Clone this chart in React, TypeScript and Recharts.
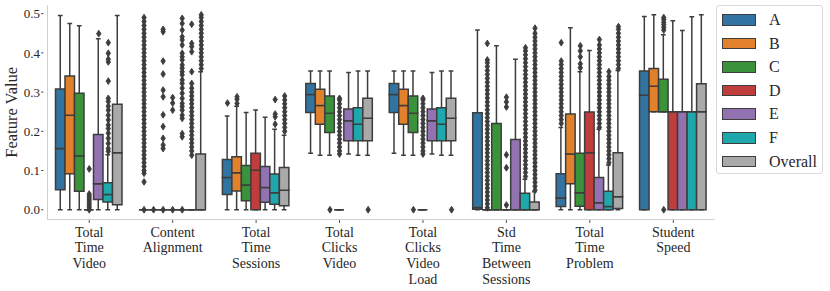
import React from 'react';
import { ComposedChart, Bar, Scatter, XAxis, YAxis } from 'recharts';

const categories = [
  'Total Time Video',
  'Content Alignment',
  'Total Time Sessions',
  'Total Clicks Video',
  'Total Clicks Video Load',
  'Std Time Between Sessions',
  'Total Time Problem',
  'Student Speed',
];

const groups = ['A', 'B', 'C', 'D', 'E', 'F', 'Overall'];
const groupColors = ['#3274a1', '#e1812c', '#3a923a', '#c03d3e', '#9372b2', '#1ea8ab', '#a9a9a9'];

const yTicks = [0, 0.1, 0.2, 0.3, 0.4, 0.5];
const yDomain = [-0.0249, 0.5218];

// [lower whisker, q1, median, q3, upper whisker] per category
const statsA = [
  [0, 0.051, 0.156, 0.308, 0.495],
  [0, 0, 0, 0, 0],
  [0, 0.039, 0.082, 0.128, 0.239],
  [0.144, 0.248, 0.294, 0.322, 0.354],
  [0.144, 0.248, 0.294, 0.322, 0.354],
  [0, 0.001, 0.006, 0.247, 0.458],
  [0, 0.008, 0.03, 0.092, 0.21],
  [0, 0, 0.292, 0.354, 0.493],
];
const statsB = [
  [0, 0.092, 0.241, 0.341, 0.475],
  [0, 0, 0, 0, 0],
  [0, 0.048, 0.094, 0.135, 0.264],
  [0.139, 0.218, 0.266, 0.307, 0.354],
  [0.139, 0.218, 0.266, 0.307, 0.354],
  [0, 0, 0, 0, 0],
  [0, 0.066, 0.142, 0.244, 0.464],
  [0.25, 0.25, 0.315, 0.36, 0.497],
];
const statsC = [
  [0, 0.047, 0.137, 0.297, 0.469],
  [0, 0, 0, 0, 0],
  [0, 0.023, 0.063, 0.113, 0.248],
  [0.139, 0.197, 0.246, 0.29, 0.354],
  [0.139, 0.197, 0.246, 0.29, 0.354],
  [0, 0, 0, 0.22, 0.418],
  [0, 0.009, 0.043, 0.144, 0.352],
  [0.25, 0.25, 0.25, 0.333, 0.446],
];
const statsD = [
  [0, 0, 0, 0, 0],
  [0, 0, 0, 0, 0],
  [0, 0, 0.101, 0.144, 0.254],
  [0, 0, 0, 0, 0],
  [0, 0, 0, 0, 0],
  [0, 0, 0, 0, 0],
  [0, 0, 0.145, 0.249, 0.406],
  [0, 0, 0.25, 0.25, 0.482],
];
const statsE = [
  [0, 0.026, 0.066, 0.192, 0.436],
  [0, 0, 0, 0, 0],
  [0, 0.019, 0.057, 0.11, 0.236],
  [0.142, 0.176, 0.227, 0.257, 0.35],
  [0.142, 0.176, 0.227, 0.257, 0.35],
  [0, 0, 0, 0.179, 0.384],
  [0, 0, 0.018, 0.082, 0.205],
  [0, 0, 0.25, 0.25, 0.457],
];
const statsF = [
  [0, 0.02, 0.039, 0.069, 0.14],
  [0, 0, 0, 0, 0],
  [0, 0.014, 0.043, 0.091, 0.205],
  [0.139, 0.176, 0.218, 0.26, 0.354],
  [0.139, 0.176, 0.218, 0.26, 0.354],
  [0, 0, 0, 0.042, 0.078],
  [0, 0, 0.008, 0.047, 0.114],
  [0, 0, 0.25, 0.25, 0.492],
];
const statsOverall = [
  [0, 0.013, 0.145, 0.269, 0.495],
  [0, 0, 0, 0.142, 0.352],
  [0, 0.01, 0.05, 0.108, 0.19],
  [0.139, 0.176, 0.233, 0.284, 0.354],
  [0.139, 0.176, 0.233, 0.284, 0.354],
  [0, 0, 0, 0.02, 0.046],
  [0, 0.003, 0.033, 0.145, 0.355],
  [0, 0, 0.25, 0.321, 0.497],
];

// outlier values per category
const outliersA = [
  [],
  [0, 0.071, 0.093, 0.1, 0.11, 0.12, 0.13, 0.14, 0.15, 0.16, 0.17, 0.18, 0.19, 0.2, 0.21, 0.22, 0.23, 0.24, 0.25, 0.26, 0.27, 0.28, 0.29, 0.3, 0.31, 0.32, 0.33, 0.34, 0.35, 0.36, 0.37, 0.38, 0.39, 0.4, 0.41, 0.42, 0.43, 0.44, 0.45, 0.46, 0.47, 0.48, 0.49],
  [0.272],
  [],
  [],
  [],
  [0.22, 0.23, 0.24, 0.25, 0.26, 0.27, 0.28, 0.29, 0.3, 0.31, 0.32, 0.33, 0.34, 0.35, 0.36, 0.37, 0.379, 0.426],
  [],
];
const outliersB = [
  [],
  [0],
  [0.271, 0.282, 0.288],
  [],
  [],
  [0.005, 0.015, 0.025, 0.035, 0.045, 0.055, 0.065, 0.075, 0.085, 0.095, 0.105, 0.115, 0.125, 0.135, 0.145, 0.155, 0.165, 0.175, 0.185, 0.195, 0.205, 0.215, 0.225, 0.235, 0.245, 0.255, 0.265, 0.275, 0.285, 0.295, 0.305, 0.315, 0.325, 0.335, 0.345, 0.355, 0.365, 0.375, 0.382, 0.424],
  [],
  [],
];
const outliersC = [
  [],
  [0, 0.156, 0.165, 0.182, 0.212, 0.242, 0.288, 0.305, 0.346, 0.379, 0.454, 0.46],
  [],
  [0],
  [0],
  [],
  [0.362, 0.372, 0.39, 0.405, 0.418],
  [0, 0.458, 0.465, 0.472, 0.478, 0.485, 0.49],
];
const outliersD = [
  [0, 0.005, 0.01, 0.015, 0.02, 0.025, 0.03, 0.035, 0.04, 0.104],
  [0, 0.254, 0.272, 0.286],
  [],
  [0.142, 0.15, 0.16, 0.17, 0.18, 0.19, 0.2, 0.21, 0.22, 0.23, 0.24, 0.25, 0.26, 0.27, 0.28, 0.284],
  [0.142, 0.15, 0.16, 0.17, 0.18, 0.19, 0.2, 0.21, 0.22, 0.23, 0.24, 0.25, 0.26, 0.27, 0.28, 0.284],
  [0.012, 0.107, 0.14, 0.262, 0.275, 0.287],
  [],
  [],
];
const outliersE = [
  [0.449],
  [0, 0.186, 0.194, 0.233, 0.241, 0.254, 0.263, 0.271, 0.284, 0.297, 0.31, 0.322, 0.331, 0.344, 0.352, 0.361, 0.369, 0.382, 0.39, 0.399, 0.42, 0.433, 0.441, 0.458, 0.475, 0.488],
  [],
  [],
  [],
  [],
  [0.21, 0.22, 0.23, 0.24, 0.25, 0.26, 0.27, 0.28, 0.29, 0.3, 0.31, 0.32, 0.33, 0.34, 0.35, 0.36, 0.37, 0.38, 0.39, 0.4, 0.41, 0.42, 0.434],
  [],
];
const outliersF = [
  [0.149, 0.156, 0.169, 0.182, 0.195, 0.207, 0.216, 0.229, 0.241, 0.254, 0.264, 0.276, 0.284, 0.328, 0.377, 0.384, 0.399, 0.426],
  [0.139, 0.15, 0.16, 0.17, 0.18, 0.19, 0.2, 0.21, 0.22, 0.23, 0.24, 0.25, 0.26, 0.27, 0.28, 0.29, 0.3, 0.31, 0.322, 0.352, 0.403, 0.416, 0.424, 0.473],
  [0.218, 0.237, 0.244, 0.281],
  [],
  [],
  [0.085, 0.095, 0.105, 0.115, 0.125, 0.135, 0.145, 0.155, 0.165, 0.175, 0.185, 0.195, 0.205, 0.215, 0.225, 0.235, 0.245, 0.255, 0.265, 0.275, 0.285, 0.295, 0.305, 0.315, 0.325, 0.335, 0.345, 0.355, 0.365, 0.375, 0.385, 0.395, 0.405, 0.413],
  [0.12, 0.13, 0.14, 0.15, 0.16, 0.17, 0.18, 0.19, 0.2, 0.21, 0.22, 0.23, 0.24, 0.25, 0.26, 0.27, 0.28, 0.29, 0.3, 0.31, 0.32, 0.33, 0.34, 0.352],
  [],
];
const outliersOverall = [
  [],
  [0.36, 0.37, 0.38, 0.39, 0.4, 0.41, 0.42, 0.43, 0.44, 0.45, 0.46, 0.47, 0.48, 0.49, 0.497],
  [0.2, 0.21, 0.22, 0.23, 0.24, 0.25, 0.26, 0.27, 0.28, 0.29],
  [0],
  [0],
  [0.05, 0.06, 0.07, 0.08, 0.09, 0.1, 0.11, 0.12, 0.13, 0.14, 0.15, 0.16, 0.17, 0.18, 0.19, 0.2, 0.21, 0.22, 0.23, 0.24, 0.25, 0.26, 0.27, 0.28, 0.29, 0.3, 0.31, 0.32, 0.33, 0.34, 0.35, 0.36, 0.37, 0.38, 0.39, 0.4, 0.41, 0.42, 0.43, 0.44, 0.45, 0.463],
  [0.36, 0.37, 0.38, 0.39, 0.4, 0.41, 0.42, 0.43, 0.44, 0.45, 0.46, 0.467],
  [],
];

const allStats = [statsA, statsB, statsC, statsD, statsE, statsF, statsOverall];
const allOutliers = [outliersA, outliersB, outliersC, outliersD, outliersE, outliersF, outliersOverall];

const LINE = '#3d3d3d';
const FONT = "'Liberation Serif', 'DejaVu Serif', serif";
const TEXT = '#262626';
const SPINE = '#d0d0d0';
const LW = 1.5;
const SEGS = ['base', 'lw', 'b1', 'b2', 'uw'];

const data = categories.map((name, i) => {
  const row: Record<string, any> = { name };
  allStats.forEach((s, g) => {
    const [wl, q1, med, q3, wh] = s[i];
    row[`g${g}_base`] = wl;
    row[`g${g}_lw`] = q1 - wl;
    row[`g${g}_b1`] = med - q1;
    row[`g${g}_b2`] = q3 - med;
    row[`g${g}_uw`] = wh - q3;
  });
  return row;
});

// hue dodge position in category-axis units (seaborn: 0.8 group width)
const outlierData = allOutliers.map((perCat, g) =>
  perCat.flatMap((vals, i) => vals.map((v) => ({ x: i + 0.1 + ((g + 0.5) * 0.8) / groups.length, y: v })))
);

function makeShape(seg: string, color: string) {
  return (p: any) => {
    const { x, y, width, height } = p;
    if (x == null || y == null || !isFinite(x) || !isFinite(y)) return <g />;
    const h0 = height || 0;
    const top = Math.min(y, y + h0);
    const bot = top + Math.abs(h0);
    const cx = x + width / 2;
    if (seg === 'base') return <g />;
    if (seg === 'lw') {
      return (
        <g>
          <line x1={cx} x2={cx} y1={top} y2={bot} stroke={LINE} strokeWidth={LW} />
          <line x1={x + width / 4} x2={x + (3 * width) / 4} y1={bot} y2={bot} stroke={LINE} strokeWidth={LW} />
        </g>
      );
    }
    if (seg === 'uw') {
      return (
        <g>
          <line x1={cx} x2={cx} y1={top} y2={bot} stroke={LINE} strokeWidth={LW} />
          <line x1={x + width / 4} x2={x + (3 * width) / 4} y1={top} y2={top} stroke={LINE} strokeWidth={LW} />
        </g>
      );
    }
    return (
      <path
        d={`M${x},${top}H${x + width}V${bot}H${x}Z`}
        fill={color}
        stroke={LINE}
        strokeWidth={LW}
        strokeLinejoin="miter"
      />
    );
  };
}

const Diamond = (p: any) => {
  const { cx, cy } = p;
  if (cx == null || cy == null) return <g />;
  return (
    <path
      d={`M${cx},${cy - 3.4}L${cx + 2.2},${cy}L${cx},${cy + 3.4}L${cx - 2.2},${cy}Z`}
      fill={LINE}
      stroke={LINE}
      strokeWidth={0.9}
      strokeLinejoin="round"
    />
  );
};

const YTick = (p: any) => {
  const { x, y, payload } = p;
  return (
    <g>
      <line x1={x - 6.5} x2={x - 4} y1={y} y2={y} stroke="#555" strokeWidth={1} />
      <text
        x={x - 7.5}
        y={y}
        dy="0.36em"
        textAnchor="end"
        fontFamily={FONT}
        style={{ fontFamily: FONT }}
        fontSize={13}
        fill={TEXT}
      >
        {Number(payload.value).toFixed(1)}
      </text>
    </g>
  );
};

const XTick = (p: any) => {
  const { x, y, payload } = p;
  const lines = String(payload.value).split(' ');
  return (
    <g>
      <line x1={x} x2={x} y1={y + 0.5} y2={y + 3.5} stroke="#555" strokeWidth={1} />
      {lines.map((l, k) => (
        <text
          key={k}
          x={x}
          y={y + 17 + k * 15.8}
          textAnchor="middle"
          fontFamily={FONT}
          style={{ fontFamily: FONT }}
          fontSize={14}
          fill={TEXT}
        >
          {l}
        </text>
      ))}
    </g>
  );
};

const YLabel = (p: any) => {
  const vb = p.viewBox || { x: 0, y: 5, width: 47.5, height: 214 };
  const cx = 12;
  const cy = vb.y + vb.height / 2;
  return (
    <text
      x={cx}
      y={cy}
      transform={`rotate(-90, ${cx}, ${cy})`}
      textAnchor="middle"
      dominantBaseline="central"
      fontFamily={FONT}
      style={{ fontFamily: FONT }}
      fontSize={16.5}
      fill={TEXT}
    >
      Feature Value
    </text>
  );
};

const LegendBox = () => (
  <div
    style={{
      position: 'absolute',
      left: 716,
      top: 5,
      width: 107,
      height: 169,
      border: '1px solid #d8d8d8',
      borderRadius: 3,
      background: 'rgba(255,255,255,0.8)',
      boxSizing: 'border-box',
    }}
  >
    {groups.map((g, k) => (
      <div key={g} style={{ position: 'absolute', left: 0, top: 2 + k * 23.6, height: 23, width: '100%' }}>
        <div
          style={{
            position: 'absolute',
            left: 5,
            top: 6,
            width: 34,
            height: 11.5,
            background: groupColors[k],
            border: `1px solid ${LINE}`,
            boxSizing: 'border-box',
          }}
        />
        <div
          style={{
            position: 'absolute',
            left: 52,
            top: 1,
            fontFamily: FONT,
            fontSize: 16,
            color: TEXT,
            lineHeight: '22px',
            whiteSpace: 'nowrap',
          }}
        >
          {g}
        </div>
      </div>
    ))}
  </div>
);

export default function App() {
  return (
    <div style={{ position: 'absolute', left: 0, top: 0, width: 830, height: 291, background: '#fff' }}>
      <ComposedChart
        width={830}
        height={291}
        data={data}
        margin={{ top: 5.1, right: 115, bottom: 0, left: 0 }}
        barGap={0}
        barSize={9.5}
      >
        <XAxis
          dataKey="name"
          xAxisId={0}
          height={71.5}
          interval={0}
          axisLine={{ stroke: SPINE, strokeWidth: 1 }}
          tickLine={false}
          tickSize={0}
          tickMargin={0}
          tick={<XTick />}
        />
        <XAxis xAxisId="num" type="number" dataKey="x" domain={[0, categories.length]} allowDataOverflow hide />
        <YAxis
          type="number"
          domain={yDomain}
          ticks={yTicks}
          allowDataOverflow
          width={47.5}
          axisLine={{ stroke: SPINE, strokeWidth: 1 }}
          tickLine={false}
          tickSize={0}
          tickMargin={0}
          tick={<YTick />}
          label={<YLabel />}
        />
        {groups.flatMap((g, gi) =>
          SEGS.map((seg) => (
            <Bar
              key={`g${gi}_${seg}`}
              dataKey={`g${gi}_${seg}`}
              stackId={`s${gi}`}
              xAxisId={0}
              fill={groupColors[gi]}
              shape={makeShape(seg, groupColors[gi])}
              isAnimationActive={false}
            />
          ))
        )}
        {groups.map((g, gi) => (
          <Scatter
            key={`o${gi}`}
            data={outlierData[gi]}
            dataKey="y"
            xAxisId="num"
            shape={<Diamond />}
            isAnimationActive={false}
          />
        ))}
      </ComposedChart>
      <LegendBox />
    </div>
  );
}
